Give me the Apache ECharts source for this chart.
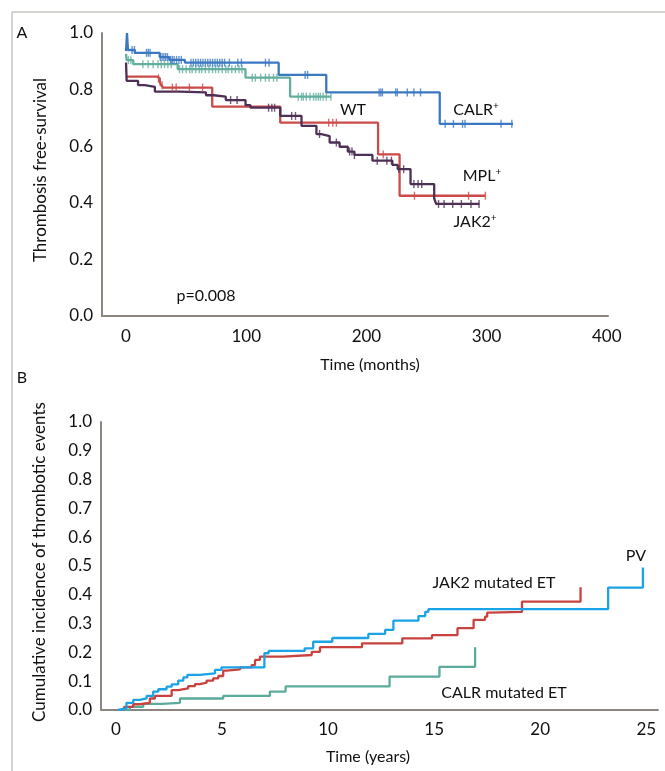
<!DOCTYPE html>
<html>
<head>
<meta charset="utf-8">
<title>Thrombosis curves</title>
<script src="https://cdn.jsdelivr.net/npm/echarts@6/dist/echarts.min.js"></script>
<style>
  html, body { margin: 0; padding: 0; background: #fff; }
  #chart { width: 665px; height: 771px; }
</style>
</head>
<body>
<div id="chart"></div>
<script>
// ---- panel A: thrombosis-free survival (months) ----
const calrT = [0, 0.8, 1.6, 7.4, 28, 36, 49, 127, 166.6, 261, 322];
const calrS = [0.936, 1.0, 0.94, 0.93, 0.915, 0.905, 0.895, 0.852, 0.79, 0.679, 0.679];
const calrCens = [5, 7, 17, 18.5, 20, 28.5, 30, 31.5, 33, 34.5, 37, 38.5, 40, 42, 44, 46, 54, 56, 58, 60, 62, 64, 66, 68, 70, 72, 74, 76, 78, 80, 82, 86, 93, 96, 116, 119, 149, 151, 210.6, 212, 213.3, 224.3, 225.7, 234, 239.5, 245, 265.5, 272.4, 280, 282, 312, 321];

const wtT = [0, 0.5, 6, 43, 99.4, 136.5, 170.5];
const wtS = [0.926, 0.904, 0.89, 0.872, 0.842, 0.775, 0.775];
const wtCens = [2, 4, 14, 18.4, 22.5, 26.6, 29.3, 32, 34.8, 37.6, 44.5, 47, 50, 53, 55, 58, 61, 63, 66, 69, 72, 74.5, 77, 80, 83, 85, 88, 91, 94, 96.5, 105, 107.6, 112, 116, 119, 122.7, 125.5, 143.3, 146, 147.5, 150, 153, 156, 158, 160, 161.7, 164, 166.6, 170.5];

const mplT = [0, 26, 28, 29.5, 31, 71.7, 128.3, 209.7, 227.6, 299];
const mplS = [0.846, 0.84, 0.826, 0.815, 0.807, 0.74, 0.683, 0.571, 0.425, 0.425];
const mplCens = [27, 28.5, 30, 38.5, 41.7, 52.7, 63.7, 168.6, 172, 175, 214, 240, 285, 299];

const jakT = [0, 0.5, 10, 15.6, 24, 44.5, 66.5, 73, 83, 99.4, 103.5, 128.3, 146, 158.4, 162.5, 169.4, 177.7, 184.5, 190, 205, 221.6, 226, 236.7, 256.4, 258, 294];
const jakS = [0.896, 0.831, 0.816, 0.81, 0.793, 0.79, 0.78, 0.775, 0.763, 0.745, 0.736, 0.707, 0.672, 0.643, 0.636, 0.613, 0.598, 0.581, 0.569, 0.549, 0.534, 0.519, 0.466, 0.416, 0.396, 0.396];
const jakCens = [87, 92.4, 118.6, 121.3, 123.6, 137.8, 141, 161, 175, 186, 188, 190, 209, 217, 220.8, 227, 231, 239.5, 243, 246, 260, 264.6, 271.8, 279, 287, 293.7];

const monthTicks = [0, 100, 200, 300, 400];

// ---- panel B: cumulative incidence (years) ----
const pvT = [0.1, 0.19, 0.5, 0.82, 1.13, 1.45, 1.76, 2.0, 2.39, 2.63, 2.94, 3.18, 3.37, 3.96, 4.67, 4.98, 7.0, 7.2, 8.9, 9.3, 10.2, 11.9, 12.69, 13.08, 14.26, 14.58, 14.73, 23.2, 24.84];
const pvC = [0, 0.006, 0.025, 0.035, 0.04, 0.049, 0.064, 0.072, 0.081, 0.089, 0.102, 0.113, 0.122, 0.127, 0.139, 0.148, 0.197, 0.205, 0.214, 0.237, 0.25, 0.264, 0.278, 0.31, 0.326, 0.341, 0.35, 0.425, 0.495];

const jetT = [0.35, 0.4, 0.82, 1.13, 1.6, 1.84, 2.63, 2.94, 3.41, 3.73, 3.96, 4.28, 4.59, 4.83, 5.06, 5.22, 5.85, 6.4, 6.56, 6.79, 7.89, 9.23, 9.62, 11.6, 13.5, 14.9, 16.1, 16.86, 17.4, 17.5, 17.6, 19.14, 21.9];
const jetC = [0, 0.011, 0.02, 0.025, 0.04, 0.049, 0.069, 0.075, 0.083, 0.09, 0.095, 0.102, 0.11, 0.118, 0.137, 0.141, 0.148, 0.156, 0.174, 0.185, 0.191, 0.202, 0.218, 0.231, 0.249, 0.26, 0.284, 0.313, 0.324, 0.338, 0.341, 0.376, 0.426];

const calT = [0.42, 0.66, 1.29, 2.16, 3.02, 5.06, 7.26, 8.0, 12.9, 15.25, 16.93];
const calC = [0, 0.011, 0.021, 0.025, 0.04, 0.049, 0.064, 0.082, 0.116, 0.15, 0.218];

const yearTicks = [0, 5, 10, 15, 20, 25];

const FONT = 'Lato';
const TXT = '#111111';
const AXIS = '#8b8780';
const FS = 16;
const TICK_FS = 17;

function pairs(ts, vs) {
  return ts.map((t, i) => [t, vs[i]]);
}

// value of a step curve at time t (last change at or before t)
function stepAt(ts, vs, t) {
  let v = vs[0];
  for (let i = 0; i < ts.length; i++) {
    if (ts[i] <= t) v = vs[i];
  }
  return v;
}

function curve(name, ts, vs, color, idx) {
  return {
    name: name,
    type: 'line',
    step: 'end',
    xAxisIndex: idx,
    yAxisIndex: idx,
    data: pairs(ts, vs),
    showSymbol: false,
    symbol: 'none',
    lineStyle: { color: color, width: 2.3 },
    z: 3
  };
}

function censors(name, ts, vs, cens, color) {
  return {
    name: name + ' censored',
    type: 'scatter',
    xAxisIndex: 0,
    yAxisIndex: 0,
    data: cens.map(t => [t, stepAt(ts, vs, t)]),
    symbol: 'rect',
    symbolSize: [1.4, 8],
    itemStyle: { color: color },
    z: 4
  };
}

function label(x, y, main, sup) {
  return {
    type: 'text',
    x: x,
    y: y,
    style: {
      text: sup ? '{n|' + main + '}{s|' + sup + '}' : main,
      font: FS + 'px ' + FONT,
      fill: TXT,
      align: 'center',
      verticalAlign: 'middle',
      rich: {
        n: { fontSize: FS, fontFamily: FONT, fill: TXT, lineHeight: 19 },
        s: { fontSize: 10, fontFamily: FONT, fill: TXT, verticalAlign: 'top', lineHeight: 19 }
      }
    }
  };
}

function yAxisOf(grid, step) {
  return {
    gridIndex: grid, type: 'value', min: 0, max: 1, interval: step,
    axisLine: { show: true, onZero: false, lineStyle: { color: AXIS, width: 2 } },
    axisTick: { show: false },
    splitLine: { show: false },
    axisLabel: { color: TXT, fontFamily: FONT, fontSize: TICK_FS, margin: 9, formatter: v => v.toFixed(1) }
  };
}

const chart = echarts.init(document.getElementById('chart'), null, { renderer: 'canvas' });

chart.setOption({
  animation: false,
  backgroundColor: '#fff',
  grid: [
    { left: 102, top: 33, width: 506, height: 283 },
    { left: 101, top: 422, width: 557, height: 288 }
  ],
  xAxis: [
    {
      gridIndex: 0, type: 'value', min: -20, max: 401,
      axisLine: { onZero: false, lineStyle: { color: AXIS, width: 2 } },
      axisTick: { show: false },
      splitLine: { show: false },
      axisLabel: { customValues: monthTicks, color: TXT, fontFamily: FONT, fontSize: TICK_FS, margin: 12 }
    },
    {
      gridIndex: 1, type: 'value', min: -0.7, max: 25.55,
      axisLine: { onZero: false, lineStyle: { color: AXIS, width: 2 } },
      axisTick: { show: false },
      splitLine: { show: false },
      axisLabel: { customValues: yearTicks, color: TXT, fontFamily: FONT, fontSize: TICK_FS, margin: 11 }
    }
  ],
  yAxis: [yAxisOf(0, 0.2), yAxisOf(1, 0.1)],
  series: [
    curve('WT', wtT, wtS, '#62ae9f', 0),
    curve('MPL+', mplT, mplS, '#cc4a4a', 0),
    curve('JAK2+', jakT, jakS, '#4e2f55', 0),
    curve('CALR+', calrT, calrS, '#3b78c2', 0),
    censors('WT', wtT, wtS, wtCens, '#62ae9f'),
    censors('MPL+', mplT, mplS, mplCens, '#cc4a4a'),
    censors('JAK2+', jakT, jakS, jakCens, '#4e2f55'),
    censors('CALR+', calrT, calrS, calrCens, '#3b78c2'),
    curve('CALR mutated ET', calT, calC, '#5aab9b', 1),
    curve('JAK2 mutated ET', jetT, jetC, '#c8423f', 1),
    curve('PV', pvT, pvC, '#1aa3e6', 1)
  ],
  graphic: [
    // figure frame (top and left edges)
    { type: 'line', shape: { x1: 12, y1: 12, x2: 665, y2: 12 }, style: { stroke: '#c6c5c1', lineWidth: 1.5 } },
    { type: 'line', shape: { x1: 12, y1: 12, x2: 12, y2: 771 }, style: { stroke: '#c6c5c1', lineWidth: 1.5 } },
    label(22, 33, 'A'),
    label(22, 378, 'B'),
    {
      type: 'text', x: 41, y: 170, rotation: Math.PI / 2,
      style: { text: 'Thrombosis free-survival', font: '17px ' + FONT, fill: TXT, align: 'center', verticalAlign: 'middle' }
    },
    {
      type: 'text', x: 40, y: 562, rotation: Math.PI / 2,
      style: { text: 'Cumulative incidence of thrombotic events', font: '17px ' + FONT, fill: TXT, align: 'center', verticalAlign: 'middle' }
    },
    label(370, 365, 'Time (months)'),
    label(368, 757, 'Time (years)'),
    label(206, 296, 'p=0.008'),
    label(353, 110, 'WT'),
    label(476, 110, 'CALR', '+'),
    label(482, 176, 'MPL', '+'),
    label(475, 222, 'JAK2', '+'),
    label(636, 556, 'PV'),
    label(494, 583, 'JAK2 mutated ET'),
    label(504, 693, 'CALR mutated ET')
  ]
});
</script>
</body>
</html>
